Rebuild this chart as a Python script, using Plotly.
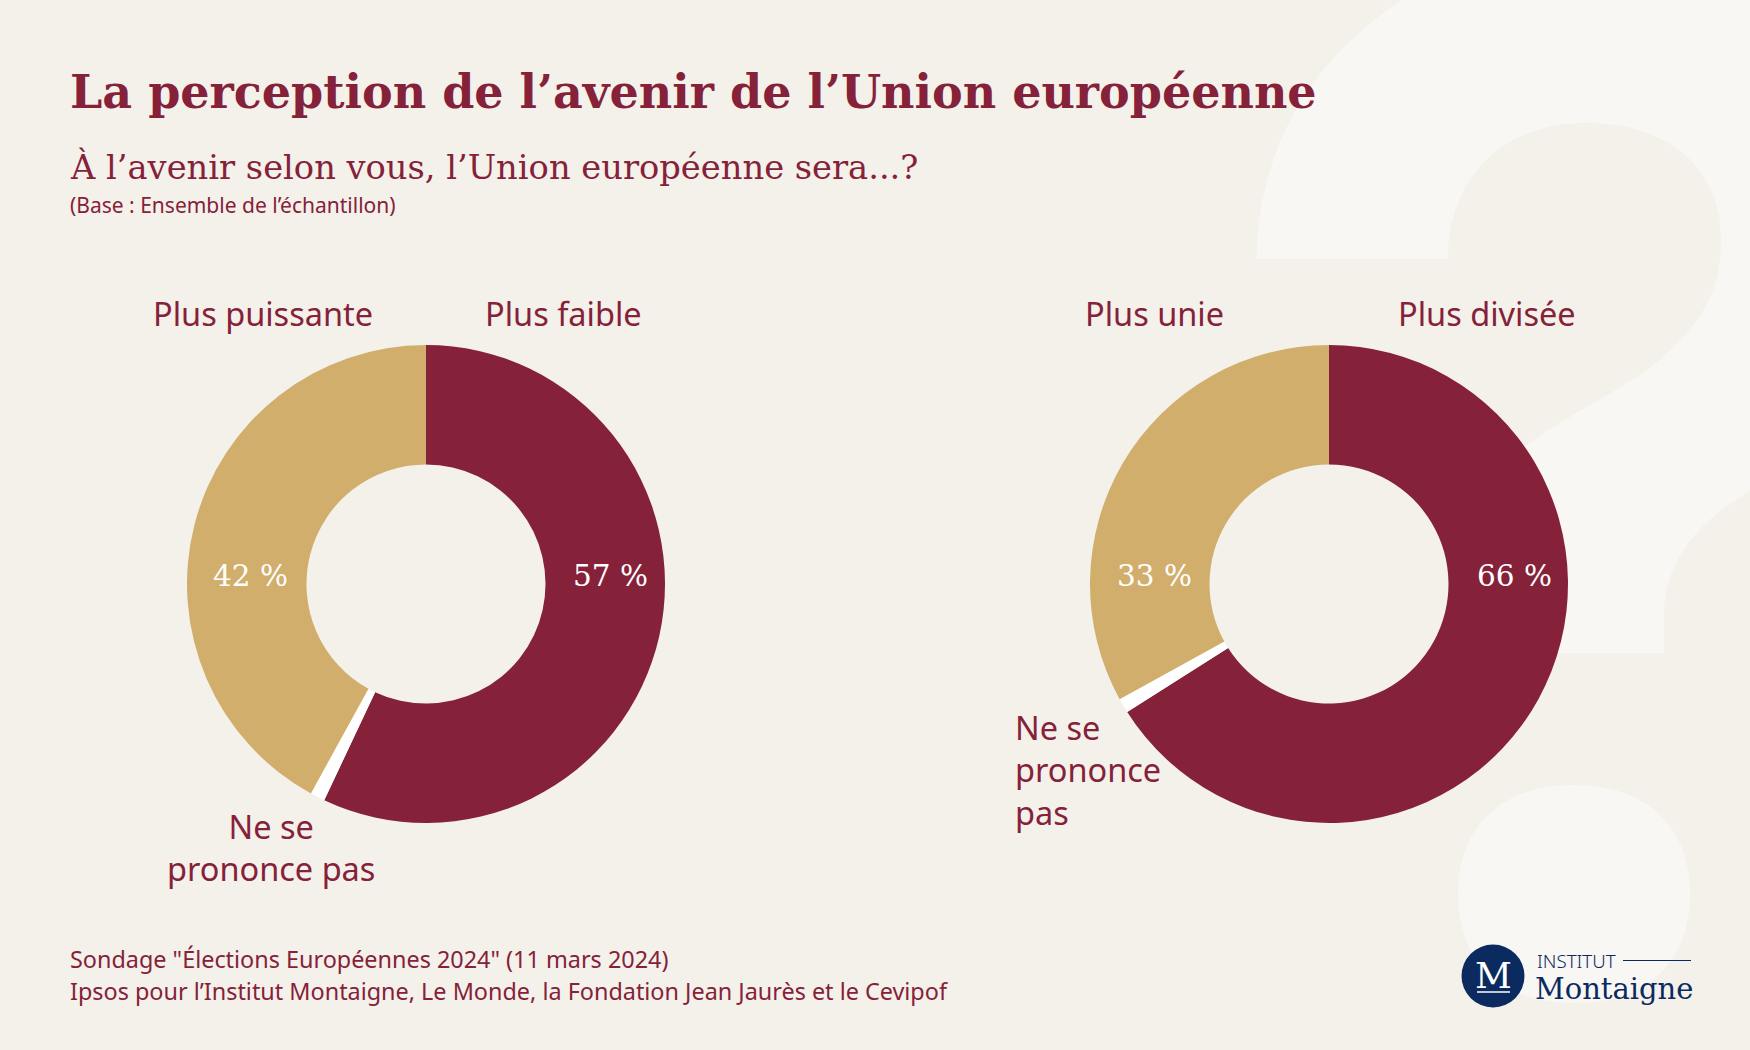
import plotly.graph_objects as go

W = 1750
H = 1050

# values
cats_left = ['Plus faible', 'Ne se prononce pas', 'Plus puissante']
vals_left = [57, 1, 42]
cats_right = ['Plus divisée', 'Ne se prononce pas', 'Plus unie']
vals_right = [66, 1, 33]

title = 'La perception de l’avenir de l’Union européenne'
subtitle = 'À l’avenir selon vous, l’Union européenne sera...?'
base_note = '(Base : Ensemble de l’échantillon)'
source_1 = 'Sondage "Élections Européennes 2024" (11 mars 2024)'
source_2 = 'Ipsos pour l’Institut Montaigne, Le Monde, la Fondation Jean Jaurès et le Cevipof'

RED = '#85223A'
GOLD = '#D1AE6B'
BG = '#F4F1EA'
PALE = '#F8F7F3'
NAVY = '#0B2A5F'
SERIF = 'DejaVu Serif'
SANS = 'Noto Sans'

R = 239
CY = 584
CX_LEFT = 426
CX_RIGHT = 1329


def fx(x):
    return x / W


def fy(y):
    return 1 - y / H


def donut(cats, vals, cx):
    return go.Pie(
        labels=cats,
        values=vals,
        sort=False,
        direction='clockwise',
        rotation=0,
        hole=0.5,
        textinfo='none',
        hoverinfo='skip',
        showlegend=False,
        marker=dict(colors=[RED, '#FFFFFF', GOLD], line=dict(width=0)),
        domain=dict(x=[fx(cx - R), fx(cx + R)], y=[fy(CY + R), fy(CY - R)]),
    )


def txt(x, y, s, size, font=SANS, color=RED, xanchor='center', weight=None, align=None):
    return dict(
        x=fx(x), y=fy(y), xref='paper', yref='paper', text=s, showarrow=False,
        xanchor=xanchor, yanchor='middle', align=align or xanchor,
        font=dict(family=font, size=size, color=color, weight=weight),
    )


def path(points):
    # points are (command, x, y, x, y...) in page pixels
    out = []
    for p in points:
        coords = p[1:]
        pairs = [f'{fx(coords[i]):.5f},{fy(coords[i + 1]):.5f}' for i in range(0, len(coords), 2)]
        out.append(p[0] + ' ' + ' '.join(pairs))
    return ' '.join(out) + ' Z'


# big pale question mark behind the charts
hook = path([
    ('M', 1256.5, 259),
    ('C', 1258, 150, 1310, 60, 1402, 0),
    ('L', 1750, 0),
    ('L', 1750, 491),
    ('C', 1700, 520, 1664, 560, 1664, 615),
    ('L', 1664, 653),
    ('L', 1480, 653),
    ('C', 1480, 560, 1490, 480, 1526, 446),
    ('C', 1580, 405, 1640, 385, 1680, 340),
    ('C', 1710, 310, 1721, 280, 1721, 239),
    ('C', 1721, 165, 1665, 123, 1586, 123),
    ('C', 1500, 123, 1448, 180, 1448, 259),
])
dot = path([
    ('M', 1574, 785),
    ('C', 1650, 785, 1690, 830, 1690, 894),
    ('C', 1690, 960, 1650, 1003, 1574, 1003),
    ('C', 1498, 1003, 1458, 960, 1458, 894),
    ('C', 1458, 830, 1498, 785, 1574, 785),
])

shapes = [
    dict(type='path', path=hook, xref='paper', yref='paper', fillcolor=PALE, line_width=0, layer='below'),
    dict(type='path', path=dot, xref='paper', yref='paper', fillcolor=PALE, line_width=0, layer='below'),
    # logo
    dict(type='circle', xref='paper', yref='paper', x0=fx(1461.5), x1=fx(1524.5), y0=fy(1007.5), y1=fy(944.5),
         fillcolor=NAVY, line_width=0),
    dict(type='line', xref='paper', yref='paper', x0=fx(1477), x1=fx(1510), y0=fy(992), y1=fy(992),
         line=dict(color='#FFFFFF', width=1.5)),
    dict(type='line', xref='paper', yref='paper', x0=fx(1623), x1=fx(1691), y0=fy(960.5), y1=fy(960.5),
         line=dict(color=NAVY, width=1.2)),
]

annotations = [
    txt(68, 92, title, 46, font=SERIF, xanchor='left', weight='bold'),
    txt(68, 167, subtitle, 33.7, font=SERIF, xanchor='left'),
    txt(68, 205, base_note, 21, xanchor='left'),

    txt(263, 314, cats_left[2], 32.5),
    txt(563, 314, cats_left[0], 32.5),
    txt(271, 847, 'Ne se<br>prononce pas', 32.5),
    txt(250, 576, f'{vals_left[2]} %', 29.5, font=SERIF, color='#FFFFFF'),
    txt(610, 576, f'{vals_left[0]} %', 29.5, font=SERIF, color='#FFFFFF'),

    txt(1154, 314, cats_right[2], 32.5),
    txt(1487, 314, cats_right[0], 32.5),
    txt(1013, 770, 'Ne se<br>prononce<br>pas', 32.5, xanchor='left'),
    txt(1154, 576, f'{vals_right[2]} %', 29.5, font=SERIF, color='#FFFFFF'),
    txt(1514, 576, f'{vals_right[0]} %', 29.5, font=SERIF, color='#FFFFFF'),

    txt(68, 959, source_1, 23.4, xanchor='left'),
    txt(68, 991, source_2, 23.4, xanchor='left'),

    txt(1493, 975, 'M', 36, font=SERIF, color='#FFFFFF'),
    txt(1535, 960, 'INSTITUT', 18.7, color=NAVY, xanchor='left', weight=300),
    txt(1533, 989, 'Montaigne', 29, font=SERIF, color=NAVY, xanchor='left'),
]

fig = go.Figure(data=[donut(cats_left, vals_left, CX_LEFT), donut(cats_right, vals_right, CX_RIGHT)])
fig.update_layout(
    width=W,
    height=H,
    margin=dict(l=0, r=0, t=0, b=0),
    paper_bgcolor=BG,
    plot_bgcolor=BG,
    showlegend=False,
    shapes=shapes,
    annotations=annotations,
)
# the page has a default body margin, drop it so the figure fills the window
fig.write_html('out.html', config=dict(displayModeBar=False), post_script="document.body.style.margin='0';")
